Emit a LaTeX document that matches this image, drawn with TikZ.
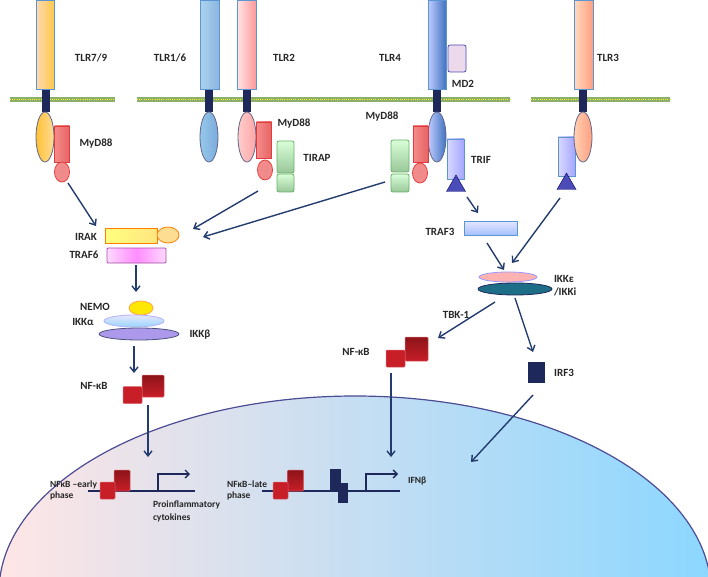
\documentclass[tikz,border=0pt]{standalone}
\usepackage{fontspec}
\setmainfont{Carlito}
\usetikzlibrary{shapes.geometric,arrows.meta}
\definecolor{navy}{RGB}{30,40,90}
\definecolor{arrc}{RGB}{35,60,110}
\definecolor{memg}{RGB}{140,175,110}
\definecolor{redb}{RGB}{225,60,60}
\definecolor{redf}{RGB}{245,140,140}
\definecolor{bluef}{RGB}{150,200,235}
\definecolor{blueb}{RGB}{90,150,210}
\definecolor{sqred}{RGB}{200,30,40}
\definecolor{sqdark}{RGB}{140,20,25}
\definecolor{tealc}{RGB}{30,110,135}
\begin{document}
\begin{tikzpicture}[x=1pt,y=-1pt,
  every node/.style={inner sep=0pt,outer sep=0pt},
  lbl/.style={font=\fontsize{11}{12}\selectfont\bfseries,text=black!85,align=left},
  nlbl/.style={anchor=west,font=\fontsize{9.5}{11}\selectfont\bfseries,text=black!85,align=left},
  box/.style={draw,rectangle,line width=0.8pt},
  ell/.style={draw,ellipse,line width=0.8pt},
  stalk/.style={fill=navy,rectangle,minimum width=8pt},
  arr/.style={draw=arrc,line width=1.4pt,-{Straight Barb[length=5pt,width=8pt]}},
  sq/.style={rectangle,rounded corners=1pt,draw=sqred!70!white,line width=0.5pt},
  dna/.style={draw=navy,line width=1.3pt},
  gfill/.style={box,draw=green!50!black!60,top color=green!15,bottom color=green!45!black!40},
  rfill/.style={box,draw=redb,left color=redf,right color=redb!80},
  tri/.style={fill=blue!60!black!70,draw=blue!40!black,regular polygon,regular polygon sides=3,minimum size=22pt}
]
\useasboundingbox (0,0) rectangle (708,577);
% nucleus
\begin{scope}
\clip (0,0) rectangle (708,577);
\shade[left color=red!10!white,right color=blue!35!cyan!45!white,draw=blue!40!black!70,line width=1.2pt] (355,592) ellipse [x radius=356,y radius=196];
\end{scope}
% membranes
\foreach \a/\b in {10/115,137/360,360/510,531/670}{
  \fill[memg] (\a,97) rectangle (\b,102);
  \draw[yellow!90!white,line width=1.2pt,dash pattern=on 1pt off 1.2pt] (\a,99.5) -- (\b,99.5);}
% TLR7/9
\node[stalk,minimum height=24pt] (s1) at (46,100) {};
\node[box,draw=blueb,left color=orange!30,right color=orange!60!yellow!70,minimum width=18pt,minimum height=89pt] (tlr79) at (45,44.5) {};
\node[ell,draw=navy!70,left color=orange!60!yellow!80,right color=yellow!30!orange!40,minimum width=18pt,minimum height=50pt] (e1) at (45,137) {};
\node[rfill,minimum width=15pt,minimum height=36pt] (my1) at (62,144) {};
\node[ell,draw=redb,inner color=redb!60,outer color=redf,minimum width=15pt,minimum height=20pt] (my1b) at (62,172) {};
\node[lbl] (t1) at (91,58) {TLR7/9};
\node[lbl] (tm1) at (96,144) {MyD88};
% TLR1/6
\node[stalk,minimum height=24pt] (s2) at (209,100) {};
\node[box,draw=blueb,left color=bluef!80,right color=blueb!70,minimum width=19pt,minimum height=89pt] (tlr16) at (209.5,44.5) {};
\node[ell,draw=navy!70,left color=bluef,right color=blueb!80,minimum width=18pt,minimum height=50pt] (e2) at (209,137) {};
\node[lbl] (t2) at (170,58) {TLR1/6};
% TLR2
\node[stalk,minimum height=24pt] (s3) at (247,100) {};
\node[box,draw=blueb,left color=red!10,right color=red!40,minimum width=19pt,minimum height=89pt] (tlr2) at (246.5,44.5) {};
\node[ell,draw=navy!70,left color=red!20,right color=red!35,minimum width=18pt,minimum height=50pt] (e3) at (247,137) {};
\node[rfill,minimum width=15pt,minimum height=36pt] (my2) at (264,140) {};
\node[ell,draw=redb,inner color=redb!60,outer color=redf,minimum width=15pt,minimum height=20pt] (my2b) at (265,170) {};
\node[gfill,minimum width=17pt,minimum height=32pt,rounded corners=2pt] (tir1) at (285.5,157) {};
\node[gfill,minimum width=17pt,minimum height=18pt,rounded corners=2pt] (tir2) at (285.5,183) {};
\node[lbl] (t3) at (284,58) {TLR2};
\node[lbl] (tm2) at (294,124) {MyD88};
\node[lbl] (tt) at (317,158) {TIRAP};
% TLR4
\node[stalk,minimum height=24pt] (s4) at (437,100) {};
\node[box,draw=blueb,left color=cyan!20!blue!25,right color=cyan!40!blue!50!gray,minimum width=18pt,minimum height=89pt] (tlr4) at (437,44.5) {};
\node[box,draw=blue!40!gray,fill=violet!15,rounded corners=2pt,minimum width=18pt,minimum height=27pt] (md2) at (457,58.5) {};
\node[ell,draw=navy!70,left color=cyan!20!blue!25,right color=cyan!40!blue!50!gray,minimum width=18pt,minimum height=50pt] (e4) at (437,137) {};
\node[rfill,minimum width=15pt,minimum height=36pt] (my4) at (420.5,144) {};
\node[ell,draw=redb,inner color=redb!60,outer color=redf,minimum width=15pt,minimum height=20pt] (my4b) at (420,173) {};
\node[gfill,minimum width=18pt,minimum height=32pt,rounded corners=2pt] (g41) at (400,156) {};
\node[gfill,minimum width=18pt,minimum height=18pt,rounded corners=2pt] (g42) at (400,183) {};
\node[box,draw=blueb,left color=blue!15,right color=blue!35,minimum width=17pt,minimum height=40pt] (trif) at (455.5,159) {};
\node[tri] (tri1) at (456,186) {};
\node[lbl] (t4) at (390,58) {TLR4};
\node[lbl] (tmd) at (463,84) {MD2};
\node[lbl] (tm4) at (382,117) {MyD88};
\node[lbl] (ttr) at (481,160) {TRIF};
% TLR3
\node[stalk,minimum height=24pt] (s5) at (583,100) {};
\node[box,draw=blueb,left color=red!20!orange!25,right color=red!50!orange!50,minimum width=19pt,minimum height=89pt] (tlr3) at (583.5,44.5) {};
\node[box,draw=blueb,left color=blue!15,right color=blue!35,minimum width=17pt,minimum height=39pt] (trif3) at (566.5,156.5) {};
\node[ell,draw=navy!70,left color=red!25!orange!30,right color=red!50!orange!50,minimum width=18pt,minimum height=50pt] (e5) at (583,137) {};
\node[tri] (tri3) at (566.5,184) {};
\node[lbl] (t5) at (608,58) {TLR3};
% IRAK / TRAF6
\node[box,draw=orange,left color=yellow!50,right color=yellow!60!orange!50,minimum width=52pt,minimum height=15pt] (irak) at (131,235.5) {};
\node[ell,draw=orange,fill=yellow!40!orange!40,minimum width=22pt,minimum height=16pt] (irakb) at (168,235) {};
\node[box,draw=violet!70,left color=magenta!15,right color=magenta!15,middle color=magenta!45,minimum width=59pt,minimum height=15pt,rounded corners=1pt] (traf6) at (136.5,255.5) {};
\node[lbl] (ti) at (86,237) {IRAK};
\node[lbl] (tt6) at (84,255) {TRAF6};
% IKK complex
\node[ell,draw=orange!70,fill=yellow!90!orange,minimum width=24pt,minimum height=14pt] (nemo) at (141,308) {};
\node[ell,draw=blue!30,top color=blue!10,bottom color=blue!40!cyan!40,minimum width=60pt,minimum height=12pt] (ikka) at (134,321) {};
\node[ell,draw=navy!80,fill=violet!40!blue!40,minimum width=80pt,minimum height=12pt] (ikkb) at (139,334) {};
\node[lbl] (tn) at (95,307) {NEMO};
\node[lbl] (ta) at (83,322) {IKKα};
\node[lbl] (tb) at (200,335) {IKKβ};
% NF-kB left
\node[sq,top color=sqdark,bottom color=sqred,minimum width=22pt,minimum height=22pt] (nfl2) at (153,386) {};
\node[sq,fill=sqred,minimum width=19pt,minimum height=17pt] (nfl1) at (132.5,395) {};
\node[lbl] (tnf1) at (94,386) {NF-κB};
% TRAF3, IKKe
\node[box,draw=blueb,top color=blue!10,bottom color=cyan!30!blue!35,minimum width=53pt,minimum height=14pt] (traf3) at (490.5,228) {};
\node[lbl] (tt3) at (440,232) {TRAF3};
\node[ell,draw=blue!40,fill=red!30,minimum width=58pt,minimum height=10pt] (ikke) at (508,277) {};
\node[ell,draw=navy,fill=tealc,minimum width=74pt,minimum height=12pt] (ikki) at (515,289) {};
\node[lbl,anchor=west] (tke) at (554,279) {IKKε};
\node[lbl,anchor=west] (tki) at (554,292) {/IKKi};
\node[lbl] (ttbk) at (456,315) {TBK-1};
% NF-kB right, IRF3
\node[sq,top color=sqdark,bottom color=sqred,minimum width=23pt,minimum height=24pt] (nfr2) at (416.5,349) {};
\node[sq,fill=sqred,minimum width=19pt,minimum height=17pt] (nfr1) at (395.5,358.5) {};
\node[lbl] (tnf2) at (356,352) {NF-κB};
\node[rectangle,fill=navy,minimum width=17pt,minimum height=21pt] (irf3) at (536.5,372.5) {};
\node[lbl] (tirf) at (564,373) {IRF3};
% nucleus contents
\draw[dna] (88,491) coordinate (el) -- (195,491) coordinate (er);
\node[sq,top color=sqdark,bottom color=sqred,minimum width=16pt,minimum height=21pt] (ne2) at (122,480.5) {};
\node[sq,fill=sqred,minimum width=15pt,minimum height=17pt] (ne1) at (107.5,490.5) {};
\coordinate (p1) at (158,491); \coordinate (p1e) at (190,474);
\draw[dna,-{Straight Barb[length=4pt,width=8pt]}] (p1) |- (p1e);
\node[nlbl] (tear) at (50,490) {NFκB --early\\phase};
\node[nlbl,font=\fontsize{9.5}{13}\selectfont\bfseries] (tpro) at (153,511) {Proinflammatory\\cytokines};
\draw[dna] (262,491) coordinate (ll) -- (400,491) coordinate (lr);
\node[sq,top color=sqdark,bottom color=sqred,minimum width=16pt,minimum height=21pt] (nl2) at (295.5,480.5) {};
\node[sq,fill=sqred,minimum width=15pt,minimum height=17pt] (nl1) at (280.5,490.5) {};
\node[rectangle,fill=navy,minimum width=11pt,minimum height=22pt] (ir1) at (335.5,480) {};
\node[rectangle,fill=navy,minimum width=10pt,minimum height=20pt] (ir2) at (343,493) {};
\coordinate (p2) at (366,491); \coordinate (p2e) at (398,474);
\draw[dna,-{Straight Barb[length=4pt,width=8pt]}] (p2) |- (p2e);
\node[nlbl] (tlate) at (227,490) {NFκB--late\\phase};
\node[nlbl] (tifn) at (408,481) {IFNβ};
% arrow end points
\coordinate (a1s) at (68,183);  \coordinate (a1e) at (96,226);
\coordinate (a2s) at (258,191); \coordinate (a2e) at (193,229);
\coordinate (a3s) at (385,182); \coordinate (a3e) at (203,237);
\coordinate (a4s) at (467,197); \coordinate (a4e) at (478,213);
\coordinate (a5s) at (560,198); \coordinate (a5e) at (512,263);
\coordinate (a6s) at (487,243); \coordinate (a6e) at (504,270);
\coordinate (a7s) at (136,265); \coordinate (a7e) at (136,292);
\coordinate (a8s) at (134,346); \coordinate (a8e) at (134,373);
\coordinate (a9s) at (148,405); \coordinate (a9e) at (148,457);
\coordinate (b1s) at (495,302); \coordinate (b1e) at (438,338);
\coordinate (b2s) at (515,298); \coordinate (b2e) at (533,352);
\coordinate (b3s) at (391,373); \coordinate (b3e) at (391,457);
\coordinate (b4s) at (533,395); \coordinate (b4e) at (471,462);
\foreach \s/\e in {a1s/a1e,a2s/a2e,a3s/a3e,a4s/a4e,a5s/a5e,a6s/a6e,a7s/a7e,a8s/a8e,a9s/a9e,b1s/b1e,b2s/b2e,b3s/b3e,b4s/b4e}
  \draw[arr] (\s) -- (\e);
\end{tikzpicture}
\end{document}
